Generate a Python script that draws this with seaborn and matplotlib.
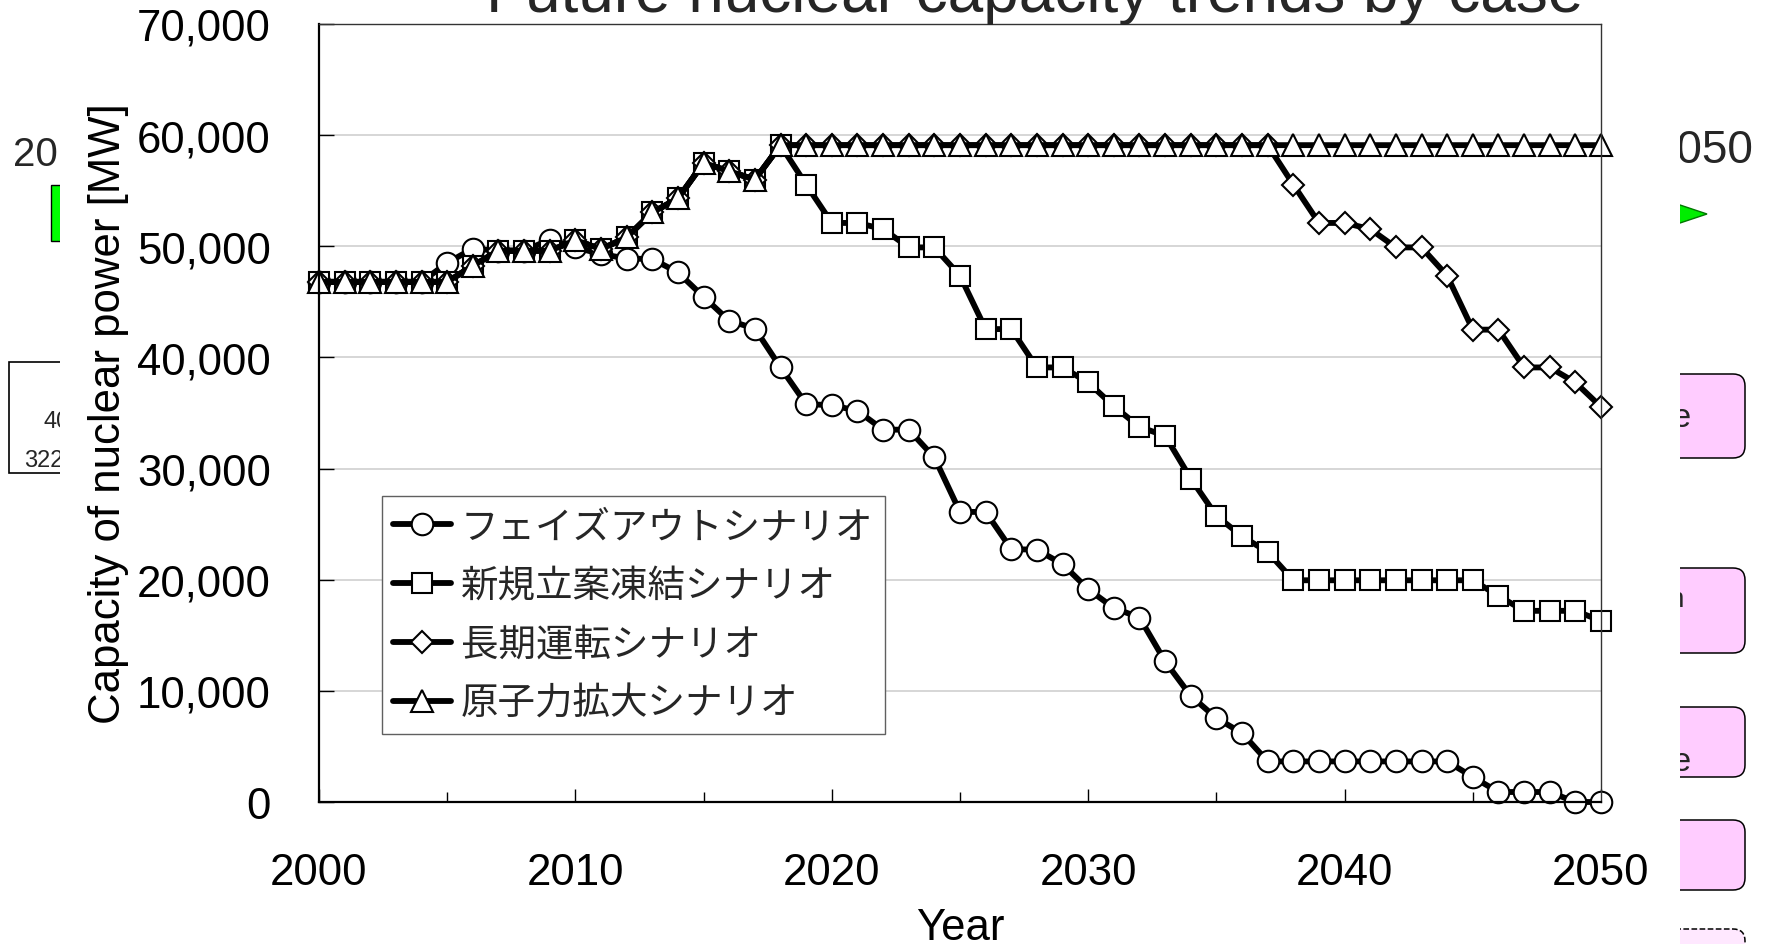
import matplotlib
matplotlib.use('Agg')
import matplotlib.pyplot as plt
import matplotlib.ticker as mticker
from matplotlib.patches import Rectangle, FancyBboxPatch, Polygon
from matplotlib.transforms import IdentityTransform
import pandas as pd
import seaborn as sns

years = list(range(2000, 2051))
labels = ['フェイズアウトシナリオ', '新規立案凍結シナリオ', '長期運転シナリオ', '原子力拡大シナリオ']

# MW
phase_out = [46800, 46800, 46800, 46800, 46800, 48500, 49800, 49600, 49600, 50600,
             49900, 49300, 48900, 48850, 47650, 45450, 43300, 42600, 39100, 35800,
             35700, 35200, 33500, 33500, 31000, 26100, 26100, 22750, 22700, 21400,
             19150, 17450, 16600, 12650, 9550, 7550, 6200, 3650, 3650, 3650,
             3650, 3650, 3650, 3650, 3650, 2250, 900, 900, 900, 0,
             0]
freeze = [46800, 46800, 46800, 46800, 46800, 46800, 48250, 49600, 49600, 49600,
          50550, 49750, 50800, 53050, 54300, 57500, 56750, 56000, 59100, 55550,
          52100, 52100, 51550, 49900, 49900, 47350, 42550, 42550, 39100, 39100,
          37750, 35600, 33750, 32950, 29100, 25750, 23900, 22500, 19950, 19950,
          19950, 19950, 19950, 19950, 19950, 19950, 18550, 17200, 17200, 17200,
          16300]
long_run = [46800, 46800, 46800, 46800, 46800, 46800, 48250, 49600, 49600, 49600,
            50550, 49750, 50800, 53050, 54300, 57500, 56750, 56000, 59100, 59100,
            59100, 59100, 59100, 59100, 59100, 59100, 59100, 59100, 59100, 59100,
            59100, 59100, 59100, 59100, 59100, 59100, 59100, 59100, 55550, 52100,
            52100, 51550, 49900, 49900, 47350, 42500, 42500, 39100, 39100, 37750,
            35550]
expand = [46800, 46800, 46800, 46800, 46800, 46800, 48250, 49600, 49600, 49600,
          50550, 49750, 50800, 53050, 54300, 57500, 56750, 56000, 59100, 59100,
          59100, 59100, 59100, 59100, 59100, 59100, 59100, 59100, 59100, 59100,
          59100, 59100, 59100, 59100, 59100, 59100, 59100, 59100, 59100, 59100,
          59100, 59100, 59100, 59100, 59100, 59100, 59100, 59100, 59100, 59100,
          59100]

markers = ['o', 's', 'D', '^']
msizes = [15.5, 15, 11.5, 16.5]

df = pd.DataFrame({'Year': years, labels[0]: phase_out, labels[1]: freeze,
                   labels[2]: long_run, labels[3]: expand})

sns.set_theme(style='ticks')
plt.rcParams['font.family'] = ['Liberation Sans', 'Noto Sans CJK JP', 'DejaVu Sans']

W, H = 1768, 945
fig = plt.figure(figsize=(W / 100, H / 100), dpi=100)
fig.patch.set_facecolor('white')
ax = fig.add_axes([319 / W, 1 - 803 / H, (1601 - 319) / W, (803 - 25) / H])

for lab, m, ms in zip(labels, markers, msizes):
    sns.lineplot(data=df, x='Year', y=lab, ax=ax, estimator=None, color='black',
                 lw=4.2, marker=m, markersize=ms, markerfacecolor='white',
                 markeredgecolor='black', markeredgewidth=1.5, label=lab, clip_on=False)

ax.set_xlim(2000, 2050)
ax.set_ylim(0, 70000)
ax.set_xticks(range(2000, 2051, 10))
ax.set_xticks(range(2005, 2050, 10), minor=True)
ax.set_yticks(range(0, 70001, 10000))
ax.yaxis.set_major_formatter(mticker.StrMethodFormatter('{x:,.0f}'))
ax.tick_params(axis='both', which='both', direction='in', labelsize=31.5,
               color='black', labelcolor='black', top=False, right=False)
ax.tick_params(axis='x', which='major', length=9.4, width=1, pad=36)
ax.tick_params(axis='x', which='minor', length=7.2, width=1)
ax.tick_params(axis='y', length=10.8, width=1, pad=34.6)
ax.grid(axis='y', color='#cccccc', lw=1.1)
ax.grid(axis='x', visible=False)
for s in ['left', 'bottom']:
    ax.spines[s].set_linewidth(1.6)
    ax.spines[s].set_color('black')
for s in ['top', 'right']:
    ax.spines[s].set_linewidth(1.0)
    ax.spines[s].set_color('#333333')

ax.set_ylabel('Capacity of nuclear power [MW]', fontsize=31.5, color='black')
ax.yaxis.set_label_coords((129 - 319) / 1282, 0.5)
ax.set_xlabel('Year', fontsize=31.5, color='black')
ax.xaxis.set_label_coords(0.5, (803 - 908) / 778)

leg = ax.legend(loc='upper left', bbox_to_anchor=((382 - 319) / 1282, (803 - 497) / 778),
                borderaxespad=0, frameon=True, fancybox=False, framealpha=1,
                edgecolor='#606060', handlelength=1.55, handletextpad=0.25,
                labelspacing=0.53, borderpad=0.3,
                prop={'family': ['Noto Sans CJK JP'], 'size': 27})
leg.get_frame().set_linewidth(1.0)

fig.text(1034.5 / W, 1 - 12 / H, 'Future nuclear capacity trends by case',
         ha='center', va='baseline', fontsize=46)

# bits of the slide behind the chart
px = IdentityTransform()
fig.text(13, H - 166, '20', fontsize=29, transform=px, zorder=-2)
fig.add_artist(Rectangle((51, H - 242), 14, 56, fc='#00ff00', ec='black', lw=1,
                         transform=px, zorder=-2))
fig.add_artist(Rectangle((9, H - 474), 70, 111, fc='white', ec='black', lw=1.2,
                         transform=px, zorder=-2))
fig.text(43, H - 428, '40', fontsize=17, transform=px, zorder=-2)
fig.text(24, H - 467, '322', fontsize=17, transform=px, zorder=-2)
fig.text(1652, H - 163, '2050', fontsize=33, transform=px, zorder=-2)
fig.add_artist(Polygon([(1668, H - 202), (1668, H - 228), (1707, H - 215)],
                       closed=True, fc='#00ee00', ec='#007700', lw=1,
                       transform=px, zorder=-2))
for top, bot in [(375, 459), (569, 654), (708, 778), (821, 891)]:
    fig.add_artist(FancyBboxPatch((1600, H - bot), 145, bot - top,
                                  boxstyle='round,pad=0,rounding_size=12',
                                  fc='#ffccff', ec='black', lw=1.1,
                                  transform=px, zorder=-2))
fig.add_artist(FancyBboxPatch((1600, -40), 145, 55, boxstyle='round,pad=0,rounding_size=12',
                              fc='#ffe8ff', ec='black', lw=1.1, ls='--',
                              transform=px, zorder=-2))
fig.text(1692, H - 427, 'ne', fontsize=24, ha='right', transform=px, zorder=-1.5)
fig.text(1684, H - 607, 'n', fontsize=20, ha='right', transform=px, zorder=-1.5)
fig.text(1692, H - 771, 'ne', fontsize=24, ha='right', transform=px, zorder=-1.5)
fig.add_artist(Rectangle((60, 0), 1620, H, fc='white', ec='none',
                         transform=px, zorder=-1))

fig.savefig('out.png', dpi=100)
